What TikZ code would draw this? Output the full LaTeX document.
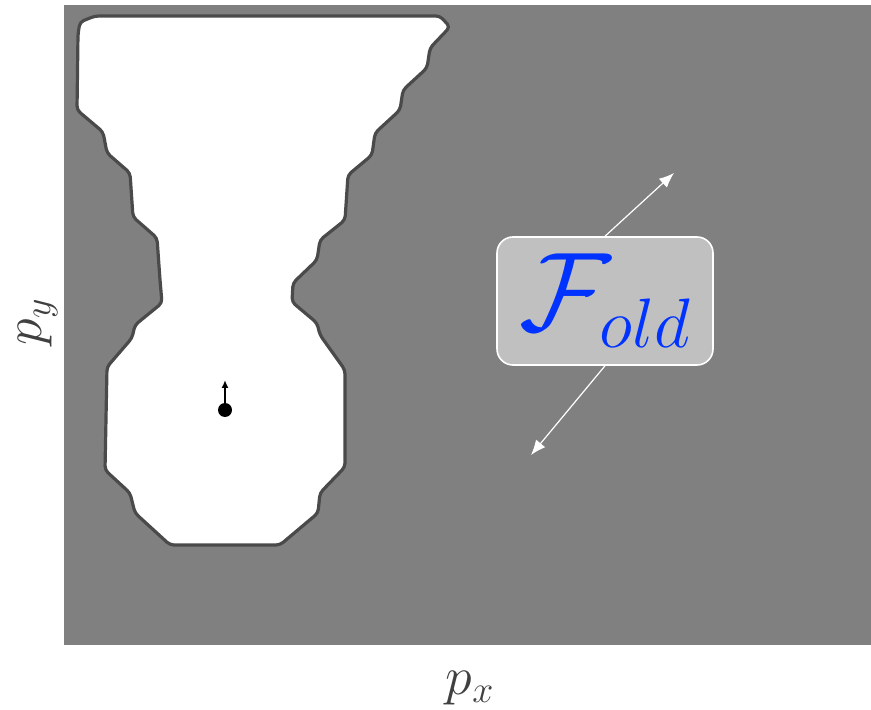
\RequirePackage{fix-cm}
\documentclass[tikz,border=0pt]{standalone}
\usepackage{amsmath,amssymb}
\usepackage{tikz}
\usetikzlibrary{arrows.meta,positioning}
\usepackage{xcolor}
\definecolor{mapgray}{HTML}{808080}
\definecolor{boxgray}{HTML}{C0C0C0}
\definecolor{edgegray}{HTML}{4A4A4A}
\definecolor{fblue}{HTML}{0033FF}
\tikzset{
  freespace/.style = {fill=white, draw=edgegray, line width=1.6pt,
                      rounded corners=2pt, line join=round},
  labelbox/.style  = {draw=white, fill=boxgray, line width=0.8pt,
                      rounded corners=8pt, minimum width=108pt,
                      minimum height=64pt, inner sep=0pt, text=fblue,
                      font=\fontsize{56}{60}\selectfont},
  robotdot/.style  = {fill, circle, inner sep=0pt, minimum size=7pt},
  dirarrow/.style  = {-{Latex[length=7.5pt,width=6pt]}, white, line width=0.6pt},
  axislabel/.style = {font=\fontsize{27}{30}\selectfont, text=black!75},
}
\newcommand{\bigsub}[1]{\text{\fontsize{35}{37}\selectfont$#1$}}

\begin{document}
\begin{tikzpicture}[x=0.5pt, y=-0.5pt]
\useasboundingbox (0,0) rectangle (871,710);
% ---- occupancy map ----
\fill[mapgray] (64,5) rectangle (871,645);
\draw[freespace] (78,34) -- (80,22) -- (95,16) -- (440,16) -- (450,27)
  -- (430,48) -- (427,68) -- (403,90) -- (400,110) -- (375,133)
  -- (372,155) -- (348,175) -- (345,220) -- (320,240) -- (317,260)
  -- (293,283) -- (292,302) -- (317,323) -- (320,335) -- (345,370)
  -- (345,467) -- (320,493) -- (318,513) -- (280,545) -- (170,545)
  -- (135,513) -- (130,493) -- (105,470) -- (107,367) -- (132,338)
  -- (135,325) -- (162,303) -- (160,280) -- (157,238) -- (133,217)
  -- (130,173) -- (107,153) -- (103,132) -- (77,110) -- cycle;
% ---- robot and heading ----
\node[robotdot] (robot) at (225,410) {};
\coordinate (heading) at (225,380);
\draw[-{Latex[length=4pt,width=3.5pt]}, line width=1.4pt] (robot.center) -- (heading);
% ---- frame label and its two directions ----
\node[labelbox] (fold) at (605,301) {$\mathcal{F}_{\bigsub{old}}$};
\coordinate (upend) at (674,173);
\coordinate (downend) at (531,455);
\draw[dirarrow] (fold.north) -- (upend);
\draw[dirarrow] (fold.south) -- (downend);
% ---- axis labels ----
\node[axislabel, rotate=90] (py) at (38,322) {$p_y$};
\node[axislabel] (px) at (470,688) {$p_x$};
\end{tikzpicture}
\end{document}
